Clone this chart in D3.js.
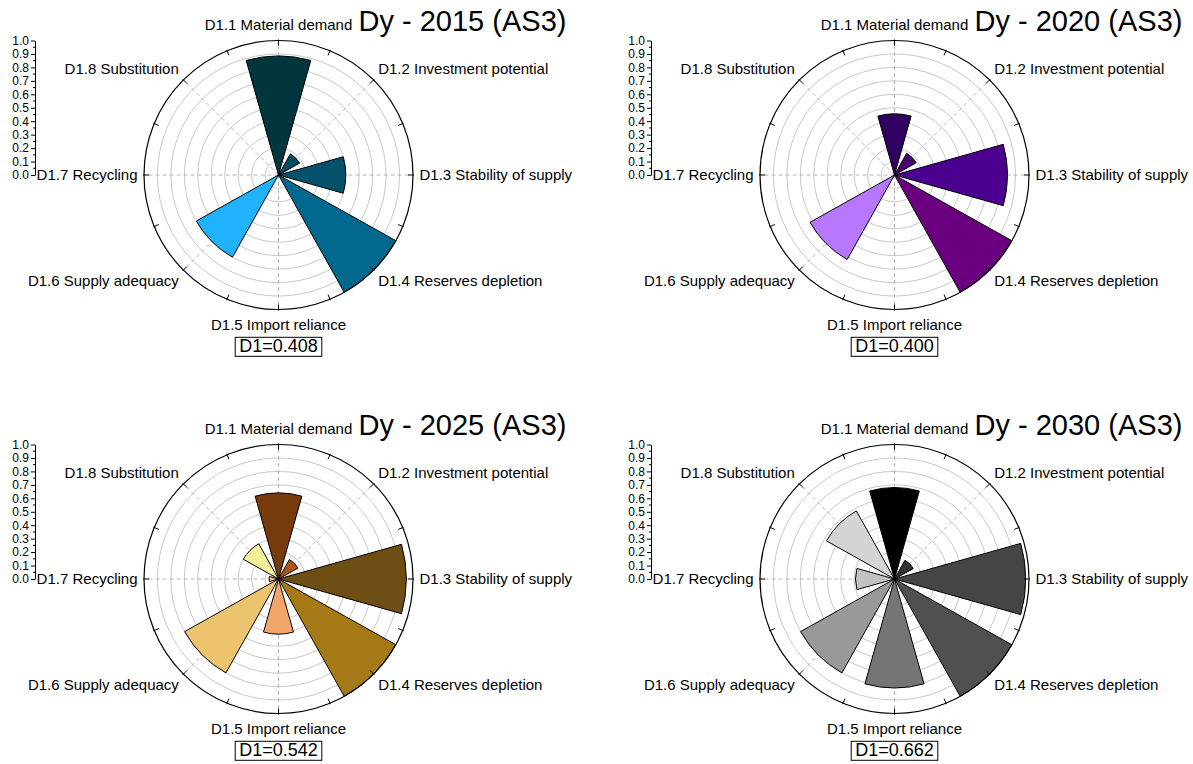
<!DOCTYPE html>
<html>
<head>
<meta charset="utf-8">
<script src="https://cdn.jsdelivr.net/npm/d3@7"></script>
<style>
  html, body { margin: 0; padding: 0; background: #fff; }
  svg { display: block; font-family: "Liberation Sans", Arial, sans-serif; }
</style>
</head>
<body>
<svg id="chart" width="1193" height="764"></svg>
<script>
// Indicator names, clockwise from the top
const categories = [
  "D1.1 Material demand",
  "D1.2 Investment potential",
  "D1.3 Stability of supply",
  "D1.4 Reserves depletion",
  "D1.5 Import reliance",
  "D1.6 Supply adequacy",
  "D1.7 Recycling",
  "D1.8 Substitution"
];
const years = ["2015", "2020", "2025", "2030"];
const scenario = "AS3";

// Normalised indicator scores per year
const values2015 = [0.885, 0.18, 0.50, 1.00, 0.00, 0.70, 0.00, 0.00];
const values2020 = [0.455, 0.185, 0.84, 1.00, 0.00, 0.72, 0.00, 0.00];
const values2025 = [0.64, 0.166, 0.95, 1.00, 0.41, 0.80, 0.07, 0.30];
const values2030 = [0.68, 0.16, 0.975, 1.00, 0.81, 0.80, 0.29, 0.58];

// Radial axis ticks
const radialTicks = [0, 0.1, 0.2, 0.3, 0.4, 0.5, 0.6, 0.7, 0.8, 0.9, 1.0];

// Sector colours per year
const colors2015 = ["#02363f", "#024d5e", "#03526a", "#01698d", "#0a88c0", "#21b2ff", "#5cc8ff", "#9adcff"];
const colors2020 = ["#300060", "#480070", "#4b0090", "#6a0080", "#8a30c0", "#b777ff", "#c9a0ff", "#ddc6ff"];
const colors2025 = ["#763a0b", "#b05614", "#6e4e12", "#a57a16", "#f3a66a", "#ecc46e", "#f6b78a", "#f2ee9a"];
const colors2030 = ["#000000", "#333333", "#454545", "#505050", "#757575", "#999999", "#c2c2c2", "#d4d4d4"];

const panels = [
  { year: years[0], values: values2015, colors: colors2015 },
  { year: years[1], values: values2020, colors: colors2020 },
  { year: years[2], values: values2025, colors: colors2025 },
  { year: years[3], values: values2030, colors: colors2030 }
];

const svg = d3.select("#chart");
const R = 134.5;
const centersX = [278.5, 894.5];
const centersY = [175, 579];
const step = 2 * Math.PI / categories.length;
const barWidth = step * 0.7;

const r = d3.scaleLinear().domain([0, 1]).range([0, R]);

panels.forEach((p, idx) => {
  const cx = centersX[idx % 2];
  const cy = centersY[Math.floor(idx / 2)];
  const g = svg.append("g").attr("transform", `translate(${cx},${cy})`);

  // concentric grid circles
  g.selectAll("circle.grid")
    .data(radialTicks.filter(t => t > 0 && t < 1))
    .join("circle")
    .attr("class", "grid")
    .attr("r", d => r(d))
    .attr("fill", "none")
    .attr("stroke", "#c8c8c8")
    .attr("stroke-width", 1);

  // dashed spokes
  g.selectAll("line.spoke")
    .data(d3.range(categories.length))
    .join("line")
    .attr("class", "spoke")
    .attr("x1", 0).attr("y1", 0)
    .attr("x2", i => Math.sin(i * step) * R)
    .attr("y2", i => -Math.cos(i * step) * R)
    .attr("stroke", "#b4b4b4")
    .attr("stroke-width", 1)
    .attr("stroke-dasharray", "4,3");

  // sectors
  const arc = d3.arc()
    .innerRadius(0)
    .outerRadius(d => r(d.v))
    .startAngle(d => d.i * step - barWidth / 2)
    .endAngle(d => d.i * step + barWidth / 2);

  g.selectAll("path.bar")
    .data(p.values.map((v, i) => ({ v, i })).filter(d => d.v > 0))
    .join("path")
    .attr("class", "bar")
    .attr("d", arc)
    .attr("fill", d => p.colors[d.i])
    .attr("stroke", "#000")
    .attr("stroke-width", 1)
    .attr("stroke-linejoin", "miter");

  // outer circle and angular ticks
  g.append("circle")
    .attr("r", R)
    .attr("fill", "none")
    .attr("stroke", "#000")
    .attr("stroke-width", 1.2);

  g.selectAll("line.atick")
    .data(d3.range(16))
    .join("line")
    .attr("class", "atick")
    .attr("x1", i => Math.sin(i * Math.PI / 8) * (R - 5))
    .attr("y1", i => -Math.cos(i * Math.PI / 8) * (R - 5))
    .attr("x2", i => Math.sin(i * Math.PI / 8) * (R + 1))
    .attr("y2", i => -Math.cos(i * Math.PI / 8) * (R + 1))
    .attr("stroke", "#000")
    .attr("stroke-width", 1);

  // category labels
  g.selectAll("text.cat")
    .data(categories)
    .join("text")
    .attr("class", "cat")
    .attr("x", (d, i) => Math.sin(i * step) * 141)
    .attr("y", (d, i) => -Math.cos(i * step) * 150)
    .attr("dy", "0.35em")
    .attr("text-anchor", (d, i) => {
      const s = Math.sin(i * step);
      return s > 0.01 ? "start" : (s < -0.01 ? "end" : "middle");
    })
    .attr("font-size", 15)
    .attr("fill", "#000")
    .text(d => d);

  // title
  g.append("text")
    .attr("x", 80)
    .attr("y", -144)
    .attr("font-size", 29)
    .attr("fill", "#000")
    .text(`Dy - ${p.year} (${scenario})`);

  // radial value axis on the left
  const yScale = d3.scaleLinear().domain([0, 1]).range([0, -R]);
  const axisG = g.append("g")
    .attr("transform", `translate(${-243.5},0)`)
    .call(d3.axisLeft(yScale)
      .tickValues(radialTicks)
      .tickFormat(d3.format(".1f"))
      .tickSizeInner(4)
      .tickSizeOuter(0)
      .tickPadding(2));
  axisG.select(".domain").attr("stroke", "#000");
  axisG.selectAll(".tick line").attr("stroke", "#000");
  axisG.selectAll(".tick text")
    .attr("font-size", 12)
    .attr("font-family", "Liberation Sans, Arial, sans-serif")
    .attr("fill", "#000");
  axisG.selectAll("line.minor")
    .data(radialTicks.slice(0, -1).map(t => t + 0.05))
    .join("line")
    .attr("class", "minor")
    .attr("x1", -2).attr("x2", 0)
    .attr("y1", d => yScale(d)).attr("y2", d => yScale(d))
    .attr("stroke", "#000");

  // composite score box (mean of the eight indicators)
  const score = d3.mean(p.values).toFixed(3);
  const box = g.append("rect");
  const st = g.append("text")
    .attr("x", 0)
    .attr("y", 171)
    .attr("dy", "0.35em")
    .attr("text-anchor", "middle")
    .attr("font-size", 18)
    .attr("fill", "#000")
    .text(`D1=${score}`);
  const bb = st.node().getBBox();
  box
    .attr("x", bb.x - 4)
    .attr("y", bb.y + 1)
    .attr("width", bb.width + 8)
    .attr("height", bb.height - 1)
    .attr("fill", "#fff")
    .attr("stroke", "#000")
    .attr("stroke-width", 1);
});
</script>
</body>
</html>
